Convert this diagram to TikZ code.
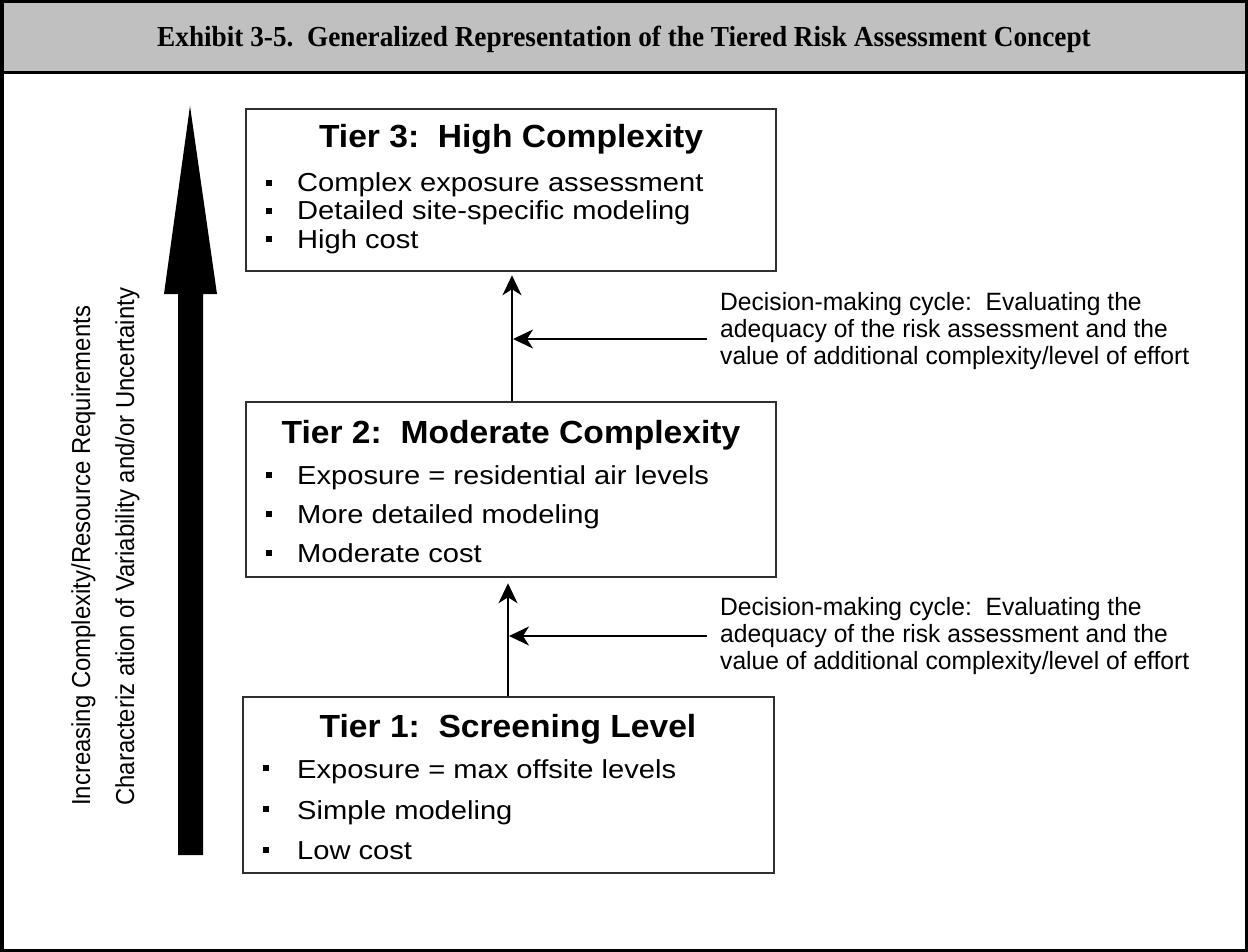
\documentclass[tikz,border=0pt]{standalone}
\usepackage{fontspec}
\setmainfont{Liberation Sans}
\newfontfamily\titlefont[FakeStretch=0.94]{Liberation Serif}
\newfontfamily\hdrfont[FakeStretch=1.05]{Liberation Sans}
\newfontfamily\bodyfont[FakeStretch=1.12]{Liberation Sans}
\newfontfamily\notefont[FakeStretch=0.985]{Liberation Sans}
\newfontfamily\narrowfont[FakeStretch=0.92]{Liberation Sans}
\usetikzlibrary{arrows.meta}
\definecolor{bandgray}{HTML}{C0C0C0}
\definecolor{boxline}{HTML}{303030}

\begin{document}
\begin{tikzpicture}[x=1pt,y=-1pt,
  tierbox/.style={draw=boxline,line width=2.5pt,fill=white,inner sep=0pt},
  tierhead/.style={font=\hdrfont\bfseries\fontsize{32}{36}\selectfont,inner sep=0pt,anchor=base},
  bulletline/.style={font=\bodyfont\fontsize{26}{30}\selectfont,inner sep=0pt,anchor=base west},
  sqbullet/.style={fill=black,minimum size=5.5pt,inner sep=0pt},
  note/.style={font=\notefont\fontsize{25}{27}\selectfont,align=left,inner sep=0pt,anchor=west},
  sidelabel/.style={font=\narrowfont\fontsize{26}{30}\selectfont,inner sep=0pt,rotate=90,anchor=base west},
  cyclearrow/.style={line width=2pt,-{Stealth[length=20pt,width=19pt,inset=6pt]}}
]
\useasboundingbox (0,0) rectangle (1248,952);

% heading band and frame
\fill[bandgray] (0,0) rectangle (1248,73);
\draw[line width=3pt] (0,73) -- (1248,73);
\draw[line width=3.5pt] (1.75,1.75) rectangle (1246.25,950.25);
\node[font=\titlefont\bfseries\fontsize{29}{32}\selectfont] (title) at (624,39)
  {Exhibit 3-5.\ \ Generalized Representation of the Tiered Risk Assessment Concept};

% big upward arrow
\fill (190,106) -- (217,294) -- (203,294) -- (203,855) -- (178,855) -- (178,294) -- (164,294) -- cycle;
\node[sidelabel] (lab1) at (90,806) {Increasing Complexity/Resource Requirements};
\node[sidelabel] (lab2) at (134,806) {Characteriz ation of Variability and/or Uncertainty};

% tier boxes
\node[tierbox,minimum width=530pt,minimum height=162pt] (t3) at (511,190) {};
\node[tierbox,minimum width=530pt,minimum height=175pt] (t2) at (511,489.5) {};
\node[tierbox,minimum width=531pt,minimum height=176pt] (t1) at (508.5,785) {};

% tier 3 text
\node[tierhead] (h3) at (511,148) {Tier 3:\ \ High Complexity};
\node[sqbullet] (b31) at (269,183) {};
\node[sqbullet] (b32) at (269,211) {};
\node[sqbullet] (b33) at (269,239) {};
\node[bulletline] (l31) at (297,192) {Complex exposure assessment};
\node[bulletline] (l32) at (297,220) {Detailed site-specific modeling};
\node[bulletline] (l33) at (297,248) {High cost};

% tier 2 text
\node[tierhead] (h2) at (511,443) {Tier 2:\ \ Moderate Complexity};
\node[sqbullet] (b21) at (269,475) {};
\node[sqbullet] (b22) at (269,514) {};
\node[sqbullet] (b23) at (269,553) {};
\node[bulletline] (l21) at (297,484) {Exposure = residential air levels};
\node[bulletline] (l22) at (297,523) {More detailed modeling};
\node[bulletline] (l23) at (297,562) {Moderate cost};

% tier 1 text
\node[tierhead] (h1) at (508,737) {Tier 1:\ \ Screening Level};
\node[sqbullet] (b11) at (266,768) {};
\node[sqbullet] (b12) at (266,809) {};
\node[sqbullet] (b13) at (266,850) {};
\node[bulletline] (l11) at (297,778) {Exposure = max offsite levels};
\node[bulletline] (l12) at (297,819) {Simple modeling};
\node[bulletline] (l13) at (297,859) {Low cost};

% decision-making notes
\node[note] (d2) at (720,331) {Decision-making cycle:\ \ Evaluating the\\adequacy of the risk assessment and the\\value of additional complexity/level of effort};
\node[note] (d1) at (720,636) {Decision-making cycle:\ \ Evaluating the\\adequacy of the risk assessment and the\\value of additional complexity/level of effort};

% tier-to-tier connectors with feedback arrows
\coordinate (up2) at (512,0);
\coordinate (up1) at (508,0);
\draw[cyclearrow] (t2.north -| up2) -- ([yshift=-3pt]t3.south -| up2);
\draw[cyclearrow] (t1.north -| up1) -- ([yshift=-5pt]t2.south -| up1);
\draw[cyclearrow] ([xshift=-13pt,yshift=-8pt]d2.west) -- ([xshift=1pt,yshift=-8pt]d2.west -| up2);
\draw[cyclearrow] ([xshift=-13pt]d1.west) -- ([xshift=1pt]d1.west -| up1);
\end{tikzpicture}
\end{document}
